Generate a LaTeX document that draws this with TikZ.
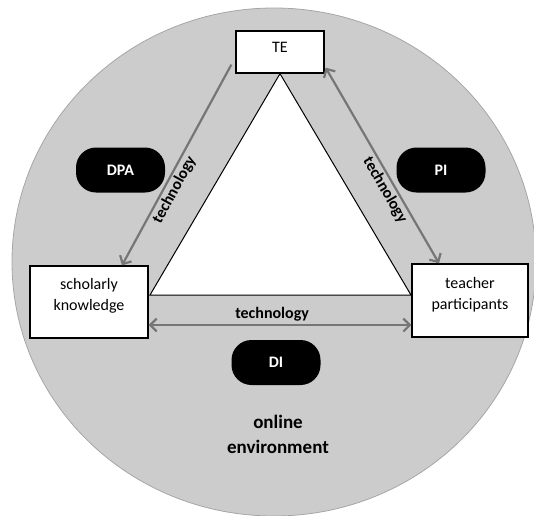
\documentclass[tikz,border=0pt]{standalone}
\usepackage{fontspec}
\setmainfont{Carlito}
\usetikzlibrary{arrows.meta}

\definecolor{envgray}{RGB}{204,204,204}
\definecolor{linkgray}{RGB}{118,118,118}

\begin{document}
\begin{tikzpicture}
	[x=1pt,y=-1pt,>={Straight Barb[length=6.5pt,width=13pt]},
	actor/.style={draw, line width=1.3pt, fill=white, align=center, inner sep=0pt, font=\fontsize{16}{21}\selectfont},
	phase/.style={fill=black, rounded corners=20pt, text=white, minimum width=89pt, minimum height=45pt, font=\fontsize{16}{19}\selectfont\bfseries},
	link/.style={draw=linkgray, line width=2.2pt},
	tech/.style={inner sep=2pt, font=\fontsize{16}{19}\selectfont\bfseries}]
	\useasboundingbox (0,0) rectangle (534,515);
	\clip (0,0) rectangle (534,515);
	\filldraw[fill=envgray, draw=black!35, line width=.8pt] (274,262) ellipse [x radius=262pt, y radius=254pt];
	
	\node[actor, minimum width=88pt, minimum height=42pt] (te) at (280,52) {TE\\[-12pt]\mbox{}};
	\node[actor, minimum width=118pt, minimum height=72pt] (sk) at (89,302) {scholarly\\knowledge\\[-6pt]\mbox{}};
	\node[actor, minimum width=116pt, minimum height=73pt] (tp) at (470,300.5) {teacher\\participants\\[-6pt]\mbox{}};
	
	\draw[line width=1pt, fill=white] (te.south) -- (150,295) -- (411,295) -- cycle;
	
	\node[phase] (dpa) at (120.5,170) {DPA};
	\node[phase] (pi) at (441,170) {PI};
	\node[phase] (di) at (276,362.5) {DI};
	\node[align=center, font=\fontsize{19}{25}\selectfont\bfseries] (env) at (278,434.5) {online\\environment};
	
	\coordinate (lt) at ([xshift=-4pt,yshift=9pt]te.south west);
	\coordinate (lb) at ([xshift=33pt]sk.north);
	\coordinate (rt) at ([xshift=1pt,yshift=6pt]te.south east);
	\coordinate (rb) at ([xshift=-31pt]tp.north);
	\coordinate (bl) at ([yshift=-23pt]sk.east);
	\coordinate (br) at ([yshift=-24.5pt]tp.west);
	
	\draw[link, ->] (lt) -- (lb) node [tech, sloped, pos=.6, below] {technology};
	\draw[link, <->] (rt) -- (rb) node [tech, sloped, pos=.6, below] {technology};
	\draw[link, <->] (bl) -- (br) node [tech, pos=.47, above=1pt] {technology};
\end{tikzpicture}
\end{document}
